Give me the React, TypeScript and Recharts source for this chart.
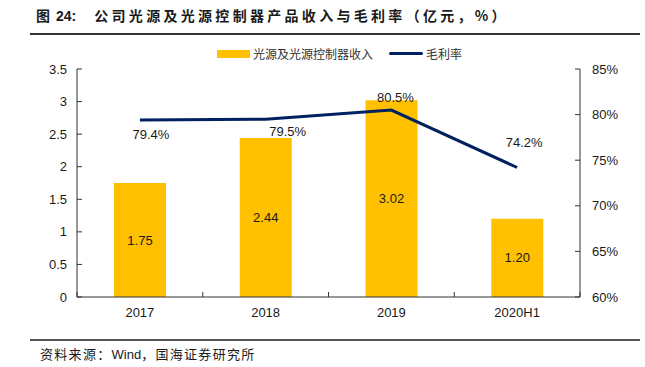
import React from 'react';
import { ComposedChart, Bar, Line, XAxis, YAxis, LabelList } from 'recharts';

const categories = ['2017', '2018', '2019', '2020H1'];
const revenue = [1.75, 2.44, 3.02, 1.2];
const margin = [79.4, 79.5, 80.5, 74.2];
const leftTicks = [0, 0.5, 1, 1.5, 2, 2.5, 3, 3.5];
const rightTicks = [60, 65, 70, 75, 80, 85];

const data = categories.map((name, i) => ({ name, revenue: revenue[i], margin: margin[i] }));

// label nudges for the margin line, per point
const lineLabelOffsets = [
  [11, 14],
  [22, 12],
  [4, -13],
  [7, -25],
];

const FONT = '"Liberation Sans", Arial, "Noto Sans CJK SC", sans-serif';
const CJK = '"Noto Sans CJK SC", "Liberation Sans", sans-serif';
const W = 645;
const H = 367;
const PLOT_LEFT = 77;
const PLOT_RIGHT = 580;
const band = (PLOT_RIGHT - PLOT_LEFT) / categories.length;

const XTick = (props: any) => {
  const { x, y, payload, index } = props;
  const axisY = y - 8;
  return (
    <g>
      <line x1={x - band / 2} x2={x - band / 2} y1={axisY} y2={axisY - 5} stroke="#333" />
      {index === categories.length - 1 && (
        <line x1={x + band / 2} x2={x + band / 2} y1={axisY} y2={axisY - 5} stroke="#333" />
      )}
      <text x={x} y={axisY + 20} textAnchor="middle" fontSize={13} fill="#1a1a1a" fontFamily={FONT}>
        {payload.value}
      </text>
    </g>
  );
};

const LineLabel = (props: any) => {
  const { x, y, value, index } = props;
  const [dx, dy] = lineLabelOffsets[index] || [0, -12];
  return (
    <text x={x + dx} y={y + dy} textAnchor="middle" dominantBaseline="central" fontSize={13} fill="#1a1a1a" fontFamily={FONT}>
      {value.toFixed(1)}%
    </text>
  );
};

const BarLabel = (props: any) => {
  const { x, y, width, height, value } = props;
  return (
    <text x={x + width / 2} y={y + height / 2} textAnchor="middle" dominantBaseline="central" fontSize={13} fill="#1a1a1a" fontFamily={FONT}>
      {value.toFixed(2)}
    </text>
  );
};

export default function App() {
  return (
    <div style={{ position: 'absolute', left: 0, top: 0, width: W, height: H, background: '#fff', fontFamily: CJK }}>
      <div style={{ position: 'absolute', left: 36, top: 5, fontSize: 14, fontWeight: 700, color: '#1a1a1a', whiteSpace: 'nowrap' }}>
        <span>图</span>
        <span style={{ fontFamily: FONT, marginLeft: 6 }}>24:</span>
        <span style={{ marginLeft: 18, letterSpacing: 3.3 }}>公司光源及光源控制器产品收入与毛利率（亿元，%）</span>
      </div>
      <div style={{ position: 'absolute', left: 30, top: 33, width: 610, height: 2, background: '#333' }} />

      <div style={{ position: 'absolute', left: 217, top: 45, display: 'flex', alignItems: 'center', fontSize: 12, color: '#333', whiteSpace: 'nowrap' }}>
        <span style={{ display: 'inline-block', width: 33, height: 8, background: '#FFC000', marginRight: 3 }} />
        <span>光源及光源控制器收入</span>
        <span style={{ display: 'inline-block', width: 34, height: 3, background: '#002060', borderRadius: 2, marginLeft: 16, marginRight: 3 }} />
        <span>毛利率</span>
      </div>

      <ComposedChart
        width={W}
        height={H}
        data={data}
        margin={{ top: 69, right: 0, bottom: 40, left: 0 }}
        style={{ position: 'absolute', left: 0, top: 0 }}
      >
        <XAxis
          dataKey="name"
          xAxisId="x"
          height={30}
          tickLine={false}
          axisLine={{ stroke: '#333' }}
          tick={<XTick />}
          interval={0}
        />
        <YAxis
          yAxisId="left"
          orientation="left"
          width={PLOT_LEFT}
          domain={[0, 3.5]}
          ticks={leftTicks}
          tickFormatter={(v: number) => String(v)}
          axisLine={{ stroke: '#333' }}
          tickLine={{ stroke: '#333' }}
          tickSize={-5}
          tickMargin={15}
          tick={{ fontSize: 13, fill: '#1a1a1a', fontFamily: FONT }}
        />
        <YAxis
          yAxisId="right"
          orientation="right"
          width={W - PLOT_RIGHT}
          domain={[60, 85]}
          ticks={rightTicks}
          tickFormatter={(v: number) => `${v}%`}
          axisLine={{ stroke: '#333' }}
          tickLine={{ stroke: '#333' }}
          tickSize={-5}
          tickMargin={17}
          tick={{ fontSize: 13, fill: '#1a1a1a', fontFamily: FONT, textAnchor: 'start' }}
        />
        <Bar xAxisId="x" yAxisId="left" dataKey="revenue" fill="#FFC000" barSize={52} isAnimationActive={false}>
          <LabelList dataKey="revenue" content={<BarLabel />} />
        </Bar>
        <Line
          xAxisId="x"
          yAxisId="right"
          dataKey="margin"
          stroke="#002060"
          strokeWidth={3}
          dot={false}
          activeDot={false}
          isAnimationActive={false}
        >
          <LabelList dataKey="margin" content={<LineLabel />} />
        </Line>
      </ComposedChart>

      <div style={{ position: 'absolute', left: 30, top: 339, width: 610, height: 2, background: '#555' }} />
      <div style={{ position: 'absolute', left: 40, top: 344, fontSize: 13, color: '#1a1a1a', whiteSpace: 'nowrap', letterSpacing: 1.3 }}>
        资料来源：<span style={{ fontFamily: FONT, letterSpacing: 0 }}>Wind</span>，国海证券研究所
      </div>
    </div>
  );
}
